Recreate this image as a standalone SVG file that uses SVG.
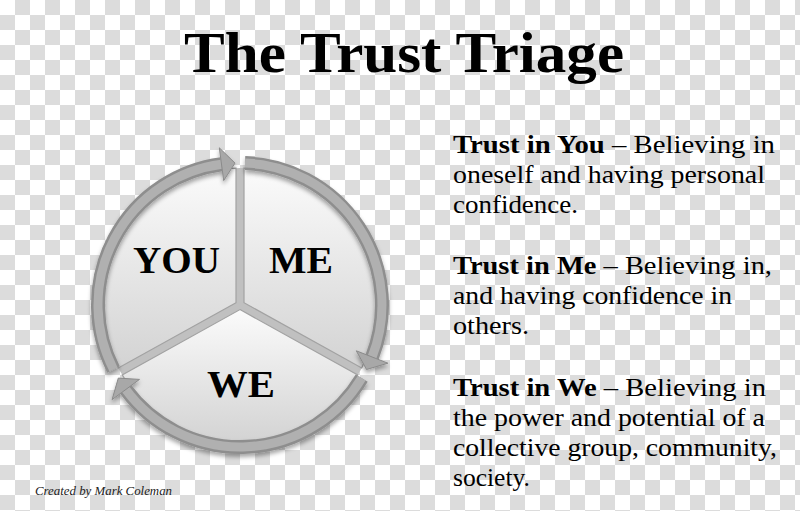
<svg xmlns="http://www.w3.org/2000/svg" xmlns:xlink="http://www.w3.org/1999/xlink" width="800" height="511" viewBox="0 0 800 511">
  <defs>
    <pattern id="checker" x="0" y="0" width="30" height="30" patternUnits="userSpaceOnUse">
      <rect x="0" y="0" width="30" height="30" fill="#ffffff"/>
      <rect x="15" y="0" width="15" height="15" fill="#dcdcdc"/>
      <rect x="0" y="15" width="15" height="15" fill="#dcdcdc"/>
    </pattern>
    <linearGradient id="sectorFill" x1="0" y1="0" x2="0" y2="1">
      <stop offset="0" stop-color="#fbfbfb"/>
      <stop offset="1" stop-color="#d3d3d3"/>
    </linearGradient>
    <filter id="shadow" x="-10%" y="-10%" width="120%" height="125%">
      <feDropShadow dx="0" dy="3" stdDeviation="2" flood-color="#000000" flood-opacity="0.35"/>
    </filter>
    <path id="arcYou" d="M 113.5 369.5 A 142 142 0 0 1 221.5 164.2"/>
    <path id="arcMe" d="M 245 163.1 A 142 142 0 0 1 372.1 357.0"/>
    <path id="arcWe" d="M 361.7 378.1 A 142 142 0 0 1 125.8 389.5"/>
  </defs>
  <style>
    .serif { font-family: "Liberation Serif", "Times New Roman", serif; fill: #000000; }
    .title { font-size: 57px; font-weight: bold; }
    .label { font-size: 38px; font-weight: bold; }
    .body { font-size: 25.5px; }
    .b { font-weight: bold; }
    .credit { font-size: 12px; font-style: italic; fill: #222222; }
    .sector { fill: url(#sectorFill); stroke: #a2a2a2; stroke-width: 1.2; }
    .ringOuter { fill: none; stroke: #8e8e8e; stroke-width: 14; }
    .ringInner { fill: none; stroke: #b0b0b0; stroke-width: 9; }
    .head { fill: #a8a8a8; stroke: #8a8a8a; stroke-width: 1; stroke-linejoin: miter; }
  </style>

  <rect x="0" y="0" width="800" height="511" fill="url(#checker)"/>

  <text class="serif title" x="184" y="72" textLength="440" lengthAdjust="spacingAndGlyphs">The Trust Triage</text>

  <circle id="hub" cx="240" cy="305" r="137" fill="#c0c0c0"/>

  <g id="node-you">
    <path class="sector" d="M 236 302.7 L 118.3 367.9 A 137 137 0 0 1 236 168.1 Z"/>
    <text class="serif label" x="133" y="273" textLength="87" lengthAdjust="spacingAndGlyphs">YOU</text>
  </g>
  <g id="node-me">
    <path class="sector" d="M 244 302.7 L 244 168.1 A 137 137 0 0 1 361.7 367.9 Z"/>
    <text class="serif label" x="269" y="273" textLength="64" lengthAdjust="spacingAndGlyphs">ME</text>
  </g>
  <g id="node-we">
    <path class="sector" d="M 240 309.6 L 357.8 374.9 A 137 137 0 0 1 122.2 374.9 Z"/>
    <text class="serif label" x="207" y="397" textLength="68" lengthAdjust="spacingAndGlyphs">WE</text>
  </g>

  <g id="connectors" filter="url(#shadow)">
    <use xlink:href="#arcYou" class="ringOuter"/>
    <use xlink:href="#arcYou" class="ringInner"/>
    <polygon class="head" points="219.3,147.8 235.0,163.1 223.7,180.6"/>
    <use xlink:href="#arcMe" class="ringOuter"/>
    <use xlink:href="#arcMe" class="ringInner"/>
    <polygon class="head" points="387.9,363.2 366.5,369.5 356.3,350.8"/>
    <use xlink:href="#arcWe" class="ringOuter"/>
    <use xlink:href="#arcWe" class="ringInner"/>
    <polygon class="head" points="112.1,399.6 118.3,378.1 139.5,379.4"/>
  </g>

  <g id="descriptions" class="serif body">
    <text x="453" y="153" textLength="322" lengthAdjust="spacingAndGlyphs"><tspan class="b">Trust in You</tspan> – Believing in</text>
    <text x="453" y="183" textLength="312" lengthAdjust="spacingAndGlyphs">oneself and having personal</text>
    <text x="453" y="213" textLength="125" lengthAdjust="spacingAndGlyphs">confidence.</text>
    <text x="453" y="274" textLength="319" lengthAdjust="spacingAndGlyphs"><tspan class="b">Trust in Me</tspan> – Believing in,</text>
    <text x="453" y="304" textLength="279" lengthAdjust="spacingAndGlyphs">and having confidence in</text>
    <text x="453" y="334" textLength="76" lengthAdjust="spacingAndGlyphs">others.</text>
    <text x="453" y="396" textLength="313" lengthAdjust="spacingAndGlyphs"><tspan class="b">Trust in We</tspan> – Believing in</text>
    <text x="453" y="426" textLength="312" lengthAdjust="spacingAndGlyphs">the power and potential of a</text>
    <text x="453" y="456" textLength="324" lengthAdjust="spacingAndGlyphs">collective group, community,</text>
    <text x="453" y="486" textLength="77" lengthAdjust="spacingAndGlyphs">society.</text>
  </g>

  <text class="serif credit" x="35" y="495" textLength="137" lengthAdjust="spacingAndGlyphs">Created by Mark Coleman</text>
</svg>
